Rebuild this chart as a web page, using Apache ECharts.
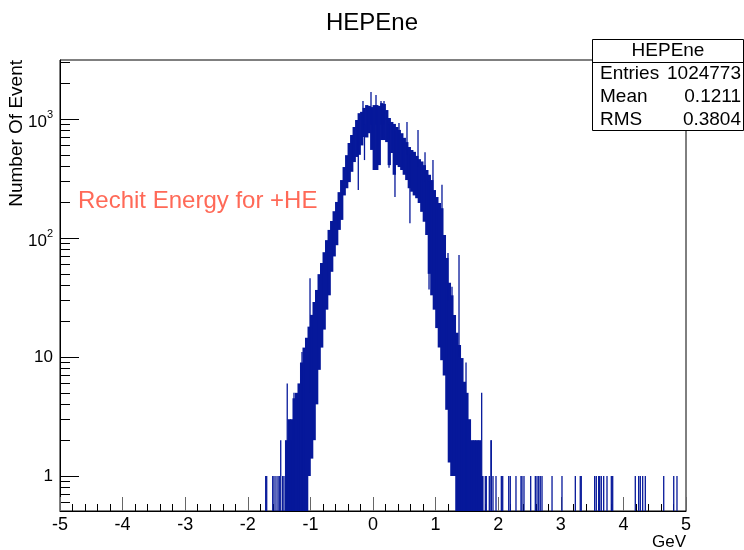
<!DOCTYPE html>
<html><head><meta charset="utf-8">
<script src="https://cdn.jsdelivr.net/npm/echarts@6/dist/echarts.min.js"></script>
<style>html,body{margin:0;padding:0;background:#fff}#c{width:744px;height:550px}</style>
</head><body><div id="c"></div>
<script>
// ---------- data ----------
const histTitle = 'HEPEne';
const xAxisTitle = 'GeV';
const yAxisTitle = 'Number Of Event';
const noteText = 'Rechit Energy for +HE';
const statLabels = ['Entries', 'Mean', 'RMS'];
const statValues = ['1024773', '0.1211', '0.3804'];
const yMajorTicks = [1, 10, 100, 1000];
const yMinorTicks = [0.6, 0.7, 0.8, 0.9, 2, 3, 4, 5, 6, 7, 8, 9, 20, 30, 40, 50, 60, 70, 80, 90,
  200, 300, 400, 500, 600, 700, 800, 900, 2000, 3000];

// dense core: left edge of each column (GeV), highest and lowest bin content inside it
const bandWidth = 0.04;
const bandX = [-1.40,-1.36,-1.32,-1.28,-1.24,-1.20,-1.16,-1.12,-1.08,-1.04,-1.00,-0.96,-0.92,-0.88,-0.84,-0.80,
  -0.76,-0.72,-0.68,-0.64,-0.60,-0.56,-0.52,-0.48,-0.44,-0.40,-0.36,-0.32,-0.28,-0.24,-0.20,-0.16,-0.12,-0.08,-0.04,
  0.00,0.04,0.08,0.12,0.16,0.20,0.24,0.28,0.32,0.36,0.40,0.44,0.48,0.52,0.56,0.60,0.64,0.68,0.72,0.76,0.80,0.84,
  0.88,0.92,0.96,1.00,1.04,1.08,1.12,1.16,1.20,1.24,1.28,1.32,1.36,1.40,1.44,1.48,1.52,1.56,1.60,1.64,1.68,1.72];
const bandHigh = [2,3,3,4.5,5,6,9,12,14.5,18,22.6,29,36.6,49.7,61.7,76,
  96,117,139,168,201,243,307,395,497,629,734,857,981,1120,1150,1240,1310,1290,1260,
  1310,1310,1290,1360,1340,1190,1020,945,910,857,810,760,695,640,582,549,530,490,460,440,410,373,
  340,307,253,221,197,178,106,68,42,33,22.5,16,12.6,9.8,6.2,5,3,2,2,2,2,1];
const bandLow = [0.5,0.5,0.5,0.5,0.5,0.5,0.5,0.5,0.5,1,1.4,2,4,7.8,12,17,
  25,33,52,70,87,117,142,228,262,295,360,435,480,500,600,706,700,760,550,
  373,373,410,666,666,640,410,518,340,410,395,373,340,307,262,245,228,216,197,166,137,106,
  50,33,25,17.5,12,9.4,7,3.6,1.3,1,1,0.5,0.5,0.5,0.5,0.5,0.5,0.5,0.5,0.5,0.5,0.5];

// isolated spikes / dips sticking out of the core: position, top, bottom
const spikeX   = [-1.37,-1.262,-1.134,-1.006,-0.16,-0.032,0.048,0.128,0.176,0.415,0.543,0.719,0.831,0.958,1.102,1.198,1.262,1.374,1.486,1.736,1.885,
  -0.235,-0.136,0.256,0.351,0.59,0.895];
const spikeTop = [6,5,11,46,1420,1690,1590,1420,1420,925,945,810,525,452,280,75,39,72,9,5,2,
  900,900,900,800,500,300];
const spikeBot = [0.5,0.5,0.5,5,900,900,900,900,900,500,500,400,300,250,150,30,20,10,0.5,0.5,0.5,
  253,452,390,221,133,37];

// sparse tail bins (content 1 or 2)
const tailX = [-1.714,-1.698,-1.602,-1.581,-1.55,-1.518,-1.497,-1.474,-1.443,-1.422,-1.305,
  1.794,1.81,1.858,1.89,1.917,1.965,2.05,2.072,2.168,2.193,2.284,2.364,2.38,2.412,2.519,2.593,2.62,2.647,2.672,2.70,
  2.86,3.019,3.232,3.311,3.327,3.541,3.567,3.605,3.621,3.647,3.685,3.738,3.807,3.829,4.19,4.244,4.27,4.308,4.35,
  4.644,4.804,4.856];
const tailVal = [1,1,1,1,1,1,1,2,1,1,2,
  1,1,1,2,1,1,1,1,1,1,1,1,1,1,1,1,1,1,1,1,
  1,1,1,1,1,1,1,1,1,1,1,1,1,1,1,1,1,1,1,
  1,1,1];

// ---------- chart ----------
const histColor = '#06189a';
const FONT = 'Liberation Sans, Arial, sans-serif';
const chart = echarts.init(document.getElementById('c'), null, {renderer: 'canvas'});

function gridRect(params) {
  const cs = params.coordSys;
  return {x: cs.x, y: cs.y, width: cs.width, height: cs.height};
}
function renderBand(params, api) {
  const x0 = api.value(0), hi = api.value(1), lo = api.value(2);
  const p0 = api.coord([x0, hi]);
  const p1 = api.coord([x0 + bandWidth, lo]);
  const r = echarts.graphic.clipRectByRect(
    {x: p0[0] - 0.4, y: p0[1], width: p1[0] - p0[0] + 0.8, height: p1[1] - p0[1]}, gridRect(params));
  if (!r) return null;
  return {type: 'rect', shape: r, style: {fill: histColor}};
}
function renderStick(params, api) {
  const x = api.value(0), top = api.value(1), bot = api.value(2);
  const a = api.coord([x, top]), b = api.coord([x, bot]);
  const cs = params.coordSys;
  const yb = Math.min(b[1], cs.y + cs.height);
  return {type: 'line', shape: {x1: a[0], y1: a[1], x2: a[0], y2: yb},
    style: {stroke: histColor, lineWidth: 1.3}};
}

function yLabel(v) {
  const e = Math.round(Math.log10(v));
  if (Math.abs(Math.log10(v) - e) > 1e-6) return '';
  if (e <= 1) return String(Math.round(v));
  return '{b|10}{s|' + e + '}';
}

const option = {
  backgroundColor: '#fff',
  animation: false,
  title: {text: histTitle, left: 'center', top: 6,
    textStyle: {fontFamily: FONT, fontSize: 24, fontWeight: 'normal', color: '#000'}},
  grid: {left: 60, right: 58, top: 60, bottom: 39, show: true, borderColor: '#000', borderWidth: 1, containLabel: false},
  xAxis: {type: 'value', min: -5, max: 5, interval: 1,
    axisLine: {onZero: false, lineStyle: {color: '#000', width: 1}},
    axisTick: {inside: true, length: 14, lineStyle: {color: '#666'}},
    minorTick: {show: true, splitNumber: 5, length: 7, lineStyle: {color: '#000'}},
    splitLine: {show: false},
    axisLabel: {fontFamily: FONT, fontSize: 18, color: '#000', margin: 5}},
  yAxis: [{type: 'log', logBase: 10, min: 0.508, max: 3134, position: 'left',
    axisLine: {show: true, onZero: false, lineStyle: {color: '#000', width: 1}},
    axisTick: {inside: true, length: 19, customValues: yMajorTicks, lineStyle: {color: '#000'}},
    splitLine: {show: false},
    axisLabel: {customValues: yMajorTicks, formatter: yLabel, margin: 7, fontFamily: FONT, fontSize: 17, color: '#000',
      rich: {b: {fontFamily: FONT, fontSize: 17, color: '#000', padding: [6, 0, 0, 0]},
             s: {fontFamily: FONT, fontSize: 11, color: '#000', padding: [0, 0, 8, 0]}}}},
    {type: 'log', logBase: 10, min: 0.508, max: 3134, position: 'left',
    axisLine: {show: false, onZero: false},
    axisTick: {inside: true, length: 10, customValues: yMinorTicks, lineStyle: {color: '#000'}},
    splitLine: {show: false},
    axisLabel: {show: false}}],
  series: [
    {type: 'custom', name: 'core', renderItem: renderBand, clip: true, xAxisIndex: 0, yAxisIndex: 0,
      encode: {x: 0, y: [1, 2]},
      data: bandX.map((x, i) => [x, bandHigh[i], bandLow[i]])},
    {type: 'custom', name: 'spikes', renderItem: renderStick, clip: true, xAxisIndex: 0, yAxisIndex: 0,
      encode: {x: 0, y: [1, 2]},
      data: spikeX.map((x, i) => [x, spikeTop[i], spikeBot[i]])},
    {type: 'custom', name: 'tails', renderItem: renderStick, clip: true, xAxisIndex: 0, yAxisIndex: 0,
      encode: {x: 0, y: [1, 2]},
      data: tailX.map((x, i) => [x, tailVal[i], 0.5])}
  ],
  graphic: [
    {type: 'text', left: 78, top: 189, z: 50,
      style: {text: noteText, fontFamily: FONT, fontSize: 24, fill: '#ff6957'}},
    {type: 'text', x: 17, y: 60, rotation: Math.PI / 2, z: 50,
      style: {text: yAxisTitle, fontFamily: FONT, fontSize: 19, fill: '#000', align: 'right', verticalAlign: 'middle'}},
    {type: 'text', x: 686, y: 542, z: 50,
      style: {text: xAxisTitle, fontFamily: FONT, fontSize: 17, fill: '#000', align: 'right', verticalAlign: 'middle'}},
    {type: 'rect', shape: {x: 592.5, y: 39.5, width: 151, height: 91}, z: 60,
      style: {fill: '#fff', stroke: '#000', lineWidth: 1}},
    {type: 'line', shape: {x1: 592.5, y1: 62.5, x2: 743.5, y2: 62.5}, z: 61, style: {stroke: '#000', lineWidth: 1}},
    {type: 'text', x: 668, y: 51, z: 62,
      style: {text: histTitle, fontFamily: FONT, fontSize: 19, fill: '#000', align: 'center', verticalAlign: 'middle'}},
    ...statLabels.map((s, i) => ({type: 'text', x: 600, y: 74 + i * 23, z: 62,
      style: {text: s, fontFamily: FONT, fontSize: 19, fill: '#000', align: 'left', verticalAlign: 'middle'}})),
    ...statValues.map((s, i) => ({type: 'text', x: 741, y: 74 + i * 23, z: 62,
      style: {text: s, fontFamily: FONT, fontSize: 19, fill: '#000', align: 'right', verticalAlign: 'middle'}}))
  ]
};
chart.setOption(option);
</script>
</body></html>
